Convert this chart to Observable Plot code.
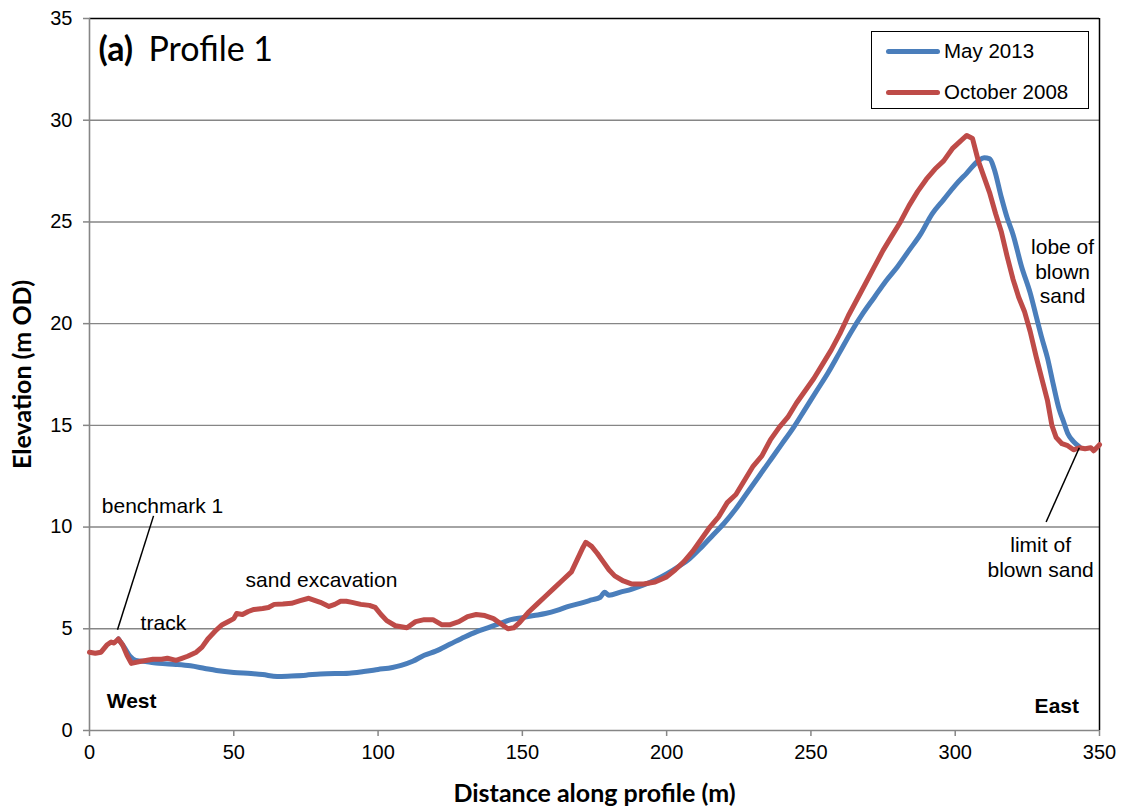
<!DOCTYPE html>
<html>
<head>
<meta charset="utf-8">
<script src="https://cdn.jsdelivr.net/npm/d3@7"></script>
<script src="https://cdn.jsdelivr.net/npm/@observablehq/plot@0.6"></script>
<style>
  html, body { margin: 0; padding: 0; background: #fff; }
  #wrap { position: relative; width: 1123px; height: 807px; }
  #wrap svg { font-family: "Liberation Sans", Arial, sans-serif; }
  .legend {
    position: absolute; left: 871px; top: 31px; width: 216px; height: 76px;
    border: 1.5px solid #000; background: #fff;
    font-family: "Liberation Sans", Arial, sans-serif; font-size: 20.5px; color: #000;
  }
  .legend .row { position: absolute; left: 14px; height: 22px; display: flex; align-items: center; white-space: nowrap; }
  .legend .sw { width: 54px; height: 5px; border-radius: 3px; margin-right: 4px; }
</style>
</head>
<body>
<div id="wrap"></div>
<script>
// Elevation profile 1: distance along profile (m) vs elevation (m OD)
const seriesNames = ["May 2013", "October 2008"];
const seriesColors = ["#4A7EBB", "#BE4B48"];

// May 2013 survey
const may2013Distance = [10, 12, 14, 16, 20, 24, 30, 35, 40, 44, 50, 56, 60, 65, 70, 75, 80, 90, 95, 100,
  105, 108, 112, 116, 120, 125, 130, 134, 138, 142, 146, 150, 154, 158, 162, 166, 170, 174, 177, 178.5,
  180, 184, 188, 192, 196, 200, 204, 208, 212, 216, 220, 224, 228, 232, 236, 240, 244, 248, 252, 256,
  260, 264, 268, 272, 276, 280, 284, 288, 292, 296, 300, 304, 308, 310, 312, 313.5, 316, 318, 320, 323,
  326, 328, 330, 332, 334, 336, 337.5, 339, 341, 343];
const may2013Elevation = [4.5, 4.1, 3.65, 3.45, 3.38, 3.3, 3.25, 3.18, 3.05, 2.95, 2.85, 2.8, 2.75, 2.65, 2.68, 2.72, 2.78, 2.82, 2.9, 3.0,
  3.1, 3.2, 3.4, 3.7, 3.9, 4.25, 4.6, 4.85, 5.05, 5.25, 5.45, 5.55, 5.65, 5.75, 5.9, 6.1, 6.25, 6.42, 6.55, 6.8,
  6.65, 6.8, 6.95, 7.15, 7.4, 7.7, 8.05, 8.45, 9.0, 9.6, 10.2, 10.9, 11.7, 12.5, 13.3, 14.1, 14.9, 15.8, 16.7, 17.6,
  18.6, 19.6, 20.5, 21.3, 22.1, 22.8, 23.6, 24.4, 25.4, 26.1, 26.8, 27.4, 28.0, 28.15, 28.1, 27.6, 26.2, 25.2, 24.4, 22.8,
  21.5, 20.4, 19.3, 18.3, 17.0, 15.8, 15.2, 14.6, 14.2, 13.95];

// October 2008 survey
const oct2008Distance = [0, 2, 4, 6, 7.5, 8.5, 10, 11.5, 13, 14.5, 17, 20, 22, 25, 27, 30, 32, 34, 37, 39,
  41, 44, 46, 48, 50, 51, 53, 55, 57, 60, 62, 64, 67, 70, 73, 76, 78, 80, 83, 85,
  87, 89, 91, 94, 97, 99, 101, 103, 106, 110, 113, 116, 119, 122, 125, 128, 131, 134, 137, 140,
  143, 145, 147, 149, 152, 155, 158, 161, 164, 167, 169, 171, 172, 174, 176, 178, 180, 182, 185, 188,
  192, 196, 200, 203, 206, 209, 212, 215, 218, 221, 224, 227, 230, 233, 236, 239, 242, 245, 248, 251,
  254, 257, 260, 263, 266, 269, 272, 275, 278, 281, 284, 287, 290, 293, 296, 299, 302, 304, 306, 308,
  310, 312, 314, 316, 318, 320, 322, 324, 326, 328, 330, 332, 333.5, 335, 337, 339, 341, 343, 345, 347,
  348, 350];
const oct2008Elevation = [3.85, 3.8, 3.85, 4.2, 4.35, 4.3, 4.5, 4.2, 3.7, 3.3, 3.38, 3.45, 3.5, 3.5, 3.55, 3.45, 3.55, 3.65, 3.85, 4.1,
  4.5, 4.95, 5.2, 5.35, 5.5, 5.75, 5.7, 5.85, 5.95, 6.0, 6.05, 6.2, 6.22, 6.25, 6.38, 6.5, 6.4, 6.3, 6.1, 6.2,
  6.35, 6.35, 6.3, 6.2, 6.15, 6.05, 5.7, 5.4, 5.15, 5.05, 5.35, 5.45, 5.45, 5.2, 5.2, 5.35, 5.6, 5.7, 5.65, 5.5,
  5.2, 5.0, 5.05, 5.3, 5.8, 6.2, 6.6, 7.0, 7.4, 7.8, 8.4, 9.0, 9.25, 9.05, 8.7, 8.3, 7.9, 7.6, 7.35, 7.2,
  7.2, 7.3, 7.55, 7.9, 8.3, 8.8, 9.4, 10.0, 10.5, 11.2, 11.6, 12.3, 13.0, 13.5, 14.3, 14.9, 15.4, 16.1, 16.7, 17.3,
  18.0, 18.7, 19.5, 20.4, 21.2, 22.0, 22.8, 23.6, 24.3, 25.0, 25.8, 26.5, 27.1, 27.6, 28.0, 28.6, 29.0, 29.25, 29.1, 28.0,
  27.2, 26.4, 25.4, 24.5, 23.3, 22.2, 21.3, 20.6, 19.6, 18.4, 17.3, 16.2, 15.0, 14.4, 14.1, 14.0, 13.8, 13.9, 13.85, 13.9,
  13.75, 14.05];

const xTicks = [0, 50, 100, 150, 200, 250, 300, 350];
const yTicks = [0, 5, 10, 15, 20, 25, 30, 35];

// Text notes placed in data units (distance, elevation)
const noteText = ["benchmark 1", "track", "sand excavation", "lobe of\nblown\nsand", "limit of\nblown sand"];
const noteX = [25.3, 25.6, 80.4, 337.2, 329.6];
const noteY = [11.1, 5.33, 7.45, 22.6, 8.55];
const sideText = ["West", "East"];
const sideX = [14.6, 335.2];
const sideY = [1.45, 1.2];
// Leader lines from a note to the point it describes
const leaderX1 = [22.2, 343.0];
const leaderY1 = [10.55, 13.9];
const leaderX2 = [9.7, 331.5];
const leaderY2 = [4.95, 10.25];

const may = may2013Distance.map((d, i) => ({distance: d, elevation: may2013Elevation[i]}));
const oct = oct2008Distance.map((d, i) => ({distance: d, elevation: oct2008Elevation[i]}));
const notes = noteText.map((t, i) => ({text: t, x: noteX[i], y: noteY[i]}));
const sides = sideText.map((t, i) => ({text: t, x: sideX[i], y: sideY[i]}));
const leaders = leaderX1.map((x1, i) => ({x1, y1: leaderY1[i], x2: leaderX2[i], y2: leaderY2[i]}));

const grey = "#868686";
const calibri = "Lato, 'Open Sans', sans-serif";

const chart = Plot.plot({
  width: 1123,
  height: 807,
  marginLeft: 89,
  marginRight: 24,
  marginTop: 18,
  marginBottom: 77,
  style: {fontSize: "20px", fontFamily: "'Liberation Sans', Arial, sans-serif", color: "#000", overflow: "visible"},
  x: {domain: [0, 350]},
  y: {domain: [0, 35]},
  marks: [
    Plot.gridY(yTicks.slice(1, -1), {stroke: grey, strokeOpacity: 1, strokeWidth: 1.4}),
    Plot.ruleY([35], {stroke: "#000", strokeWidth: 1.5}),
    Plot.ruleX([350], {stroke: "#000", strokeWidth: 1.5}),
    Plot.ruleX([0], {stroke: grey, strokeWidth: 1.6}),
    Plot.ruleY([0], {stroke: grey, strokeWidth: 1.6}),
    Plot.axisX(xTicks, {tickSize: 6, tickPadding: 8, stroke: grey, strokeWidth: 1.5, label: null}),
    Plot.axisY(yTicks, {tickSize: 6, tickPadding: 11, stroke: grey, strokeWidth: 1.5, label: null}),
    Plot.line(may, {x: "distance", y: "elevation", stroke: seriesColors[0], strokeWidth: 5, curve: "monotone-x"}),
    Plot.line(oct, {x: "distance", y: "elevation", stroke: seriesColors[1], strokeWidth: 5, curve: "linear"}),
    Plot.link(leaders, {x1: "x1", y1: "y1", x2: "x2", y2: "y2", stroke: "#000", strokeWidth: 1.5}),
    Plot.text(notes, {x: "x", y: "y", text: "text", fontSize: 21, lineHeight: 1.18, fill: "#000"}),
    Plot.text(sides, {x: "x", y: "y", text: "text", fontSize: 21, fontWeight: "bold", fill: "#000"}),
    // Axis titles
    Plot.text(["Distance along profile (m)"], {frameAnchor: "bottom", textAnchor: "middle", lineAnchor: "middle", dy: 63, fontSize: 25, fontWeight: "bold", fontFamily: calibri, fill: "#000"}),
    Plot.text(["Elevation (m OD)"], {frameAnchor: "left", textAnchor: "middle", lineAnchor: "middle", dx: -67, rotate: -90, fontSize: 25, fontWeight: "bold", fontFamily: calibri, fill: "#000"}),
    // Panel title
    Plot.text(["(a)"], {frameAnchor: "top-left", lineAnchor: "middle", dx: 9, dy: 32, textAnchor: "start", fontSize: 34, fontWeight: "bold", fontFamily: calibri, fill: "#000"}),
    Plot.text(["Profile 1"], {frameAnchor: "top-left", lineAnchor: "middle", dx: 59, dy: 32, textAnchor: "start", fontSize: 34, fontFamily: calibri, fill: "#000"})
  ]
});

const wrap = document.getElementById("wrap");
wrap.appendChild(chart);

// Legend box with line swatches
const legend = document.createElement("div");
legend.className = "legend";
seriesNames.forEach((name, i) => {
  const row = document.createElement("div");
  row.className = "row";
  row.style.top = (8 + i * 41) + "px";
  const sw = document.createElement("span");
  sw.className = "sw";
  sw.style.background = seriesColors[i];
  const label = document.createElement("span");
  label.textContent = name;
  row.appendChild(sw);
  row.appendChild(label);
  legend.appendChild(row);
});
wrap.appendChild(legend);
</script>
</body>
</html>
